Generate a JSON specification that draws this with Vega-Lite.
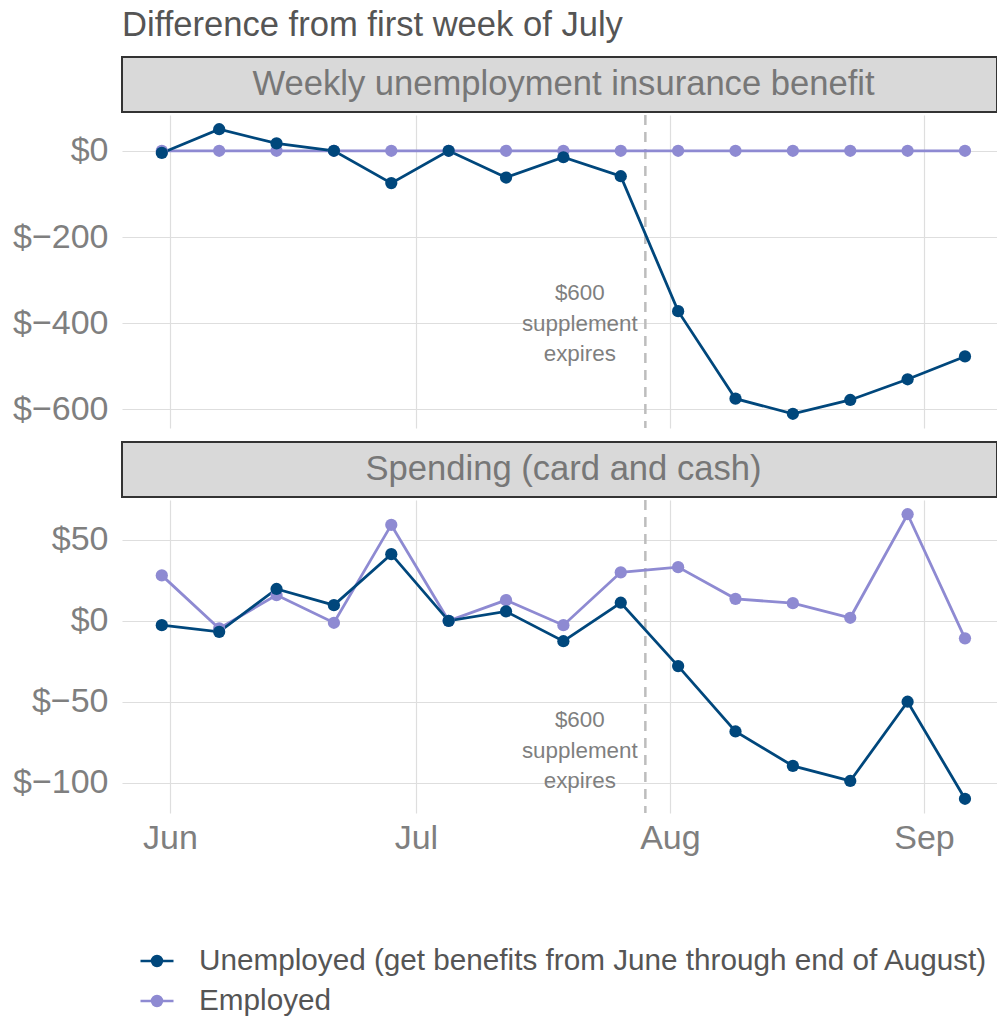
{
  "$schema": "https://vega.github.io/schema/vega-lite/v6.json",
  "padding": {"left": 12, "top": 7, "right": 0, "bottom": 0},
  "background": "white",
  "config": {
    "font": "Liberation Sans",
    "view": {"stroke": null},
    "axis": {"grid": true, "gridColor": "#dedede", "gridWidth": 1.2, "domain": false, "ticks": false, "labelFont": "Liberation Sans", "labelFontSize": 34, "labelColor": "#7f7f7f", "title": null}
  },
  "datasets": {
    "benefit": [
      {"date": "2020-05-31", "group": "Employed", "value": 0},
      {"date": "2020-06-07", "group": "Employed", "value": 0},
      {"date": "2020-06-14", "group": "Employed", "value": 0},
      {"date": "2020-06-21", "group": "Employed", "value": 0},
      {"date": "2020-06-28", "group": "Employed", "value": 0},
      {"date": "2020-07-05", "group": "Employed", "value": 0},
      {"date": "2020-07-12", "group": "Employed", "value": 0},
      {"date": "2020-07-19", "group": "Employed", "value": 0},
      {"date": "2020-07-26", "group": "Employed", "value": 0},
      {"date": "2020-08-02", "group": "Employed", "value": 0},
      {"date": "2020-08-09", "group": "Employed", "value": 0},
      {"date": "2020-08-16", "group": "Employed", "value": 0},
      {"date": "2020-08-23", "group": "Employed", "value": 0},
      {"date": "2020-08-30", "group": "Employed", "value": 0},
      {"date": "2020-09-06", "group": "Employed", "value": 0},
      {"date": "2020-05-31", "group": "Unemployed (get benefits from June through end of August)", "value": -5},
      {"date": "2020-06-07", "group": "Unemployed (get benefits from June through end of August)", "value": 50},
      {"date": "2020-06-14", "group": "Unemployed (get benefits from June through end of August)", "value": 17},
      {"date": "2020-06-21", "group": "Unemployed (get benefits from June through end of August)", "value": 0},
      {"date": "2020-06-28", "group": "Unemployed (get benefits from June through end of August)", "value": -75},
      {"date": "2020-07-05", "group": "Unemployed (get benefits from June through end of August)", "value": 0},
      {"date": "2020-07-12", "group": "Unemployed (get benefits from June through end of August)", "value": -62},
      {"date": "2020-07-19", "group": "Unemployed (get benefits from June through end of August)", "value": -15},
      {"date": "2020-07-26", "group": "Unemployed (get benefits from June through end of August)", "value": -59},
      {"date": "2020-08-02", "group": "Unemployed (get benefits from June through end of August)", "value": -372},
      {"date": "2020-08-09", "group": "Unemployed (get benefits from June through end of August)", "value": -575},
      {"date": "2020-08-16", "group": "Unemployed (get benefits from June through end of August)", "value": -610},
      {"date": "2020-08-23", "group": "Unemployed (get benefits from June through end of August)", "value": -578},
      {"date": "2020-08-30", "group": "Unemployed (get benefits from June through end of August)", "value": -530},
      {"date": "2020-09-06", "group": "Unemployed (get benefits from June through end of August)", "value": -477}
    ],
    "spending": [
      {"date": "2020-05-31", "group": "Employed", "value": 28.1},
      {"date": "2020-06-07", "group": "Employed", "value": -4.7},
      {"date": "2020-06-14", "group": "Employed", "value": 15.9},
      {"date": "2020-06-21", "group": "Employed", "value": -1.2},
      {"date": "2020-06-28", "group": "Employed", "value": 59.3},
      {"date": "2020-07-05", "group": "Employed", "value": 0},
      {"date": "2020-07-12", "group": "Employed", "value": 12.8},
      {"date": "2020-07-19", "group": "Employed", "value": -2.7},
      {"date": "2020-07-26", "group": "Employed", "value": 30},
      {"date": "2020-08-02", "group": "Employed", "value": 33.2},
      {"date": "2020-08-09", "group": "Employed", "value": 13.6},
      {"date": "2020-08-16", "group": "Employed", "value": 10.9},
      {"date": "2020-08-23", "group": "Employed", "value": 1.9},
      {"date": "2020-08-30", "group": "Employed", "value": 65.9},
      {"date": "2020-09-06", "group": "Employed", "value": -10.8},
      {"date": "2020-05-31", "group": "Unemployed (get benefits from June through end of August)", "value": -2.7},
      {"date": "2020-06-07", "group": "Unemployed (get benefits from June through end of August)", "value": -6.8},
      {"date": "2020-06-14", "group": "Unemployed (get benefits from June through end of August)", "value": 19.7},
      {"date": "2020-06-21", "group": "Unemployed (get benefits from June through end of August)", "value": 9.7},
      {"date": "2020-06-28", "group": "Unemployed (get benefits from June through end of August)", "value": 41.2},
      {"date": "2020-07-05", "group": "Unemployed (get benefits from June through end of August)", "value": 0},
      {"date": "2020-07-12", "group": "Unemployed (get benefits from June through end of August)", "value": 5.8},
      {"date": "2020-07-19", "group": "Unemployed (get benefits from June through end of August)", "value": -12.6},
      {"date": "2020-07-26", "group": "Unemployed (get benefits from June through end of August)", "value": 11.2},
      {"date": "2020-08-02", "group": "Unemployed (get benefits from June through end of August)", "value": -28},
      {"date": "2020-08-09", "group": "Unemployed (get benefits from June through end of August)", "value": -68.4},
      {"date": "2020-08-16", "group": "Unemployed (get benefits from June through end of August)", "value": -89.7},
      {"date": "2020-08-23", "group": "Unemployed (get benefits from June through end of August)", "value": -99},
      {"date": "2020-08-30", "group": "Unemployed (get benefits from June through end of August)", "value": -50},
      {"date": "2020-09-06", "group": "Unemployed (get benefits from June through end of August)", "value": -110}
    ],
    "event": [{"date": "2020-07-29"}],
    "noteBenefit": [{"date": "2020-07-21", "value": -331, "label": ["$600", "supplement", "expires"]}],
    "noteSpending": [{"date": "2020-07-21", "value": -61.4, "label": ["$600", "supplement", "expires"]}]
  },
  "vconcat": [
    {
      "spacing": 0,
      "vconcat": [
        {
          "width": 875,
          "height": 55,
          "view": {"fill": "#d9d9d9", "stroke": "#333333", "strokeWidth": 2},
          "title": {"text": "Difference from first week of July", "anchor": "start", "fontSize": 34.6, "fontWeight": "normal", "font": "Liberation Sans", "color": "#555555", "baseline": "alphabetic", "offset": -14},
          "data": {"values": [{"panel": "Weekly unemployment insurance benefit"}]},
          "mark": {"type": "text", "fontSize": 34.6, "color": "#777777", "dx": 4, "baseline": "middle", "align": "center"},
          "encoding": {"text": {"field": "panel"}}
        },
        {
          "width": 875,
          "height": 313,
          "encoding": {
            "x": {"field": "date", "type": "temporal", "scale": {"type": "utc", "domain": [1590463555200, 1599687964800]}, "axis": {"labels": false, "values": [1590969600000, 1593561600000, 1596240000000, 1598918400000], "grid": true}}
          },
          "layer": [
            {
              "data": {"name": "event"},
              "mark": {"type": "rule", "strokeDash": [10, 7], "color": "#bdbdbd", "strokeWidth": 2.5},
              "encoding": {}
            },
            {
              "data": {"name": "benefit"},
              "mark": {"type": "line", "strokeWidth": 2.8},
              "encoding": {
                "y": {"field": "value", "type": "quantitative", "scale": {"domain": [-643, 83], "nice": false, "zero": false}, "axis": {"values": [0, -200, -400, -600], "labelExpr": "'$' + format(datum.value, ',d')", "labelPadding": 14}},
                "color": {"field": "group", "type": "nominal", "scale": {"domain": ["Unemployed (get benefits from June through end of August)", "Employed"], "range": ["#00477c", "#8e8ad2"]},
                  "legend": {"orient": "none", "legendX": 17, "legendY": 886, "direction": "vertical", "title": null, "labelFontSize": 29.7, "labelColor": "#555555", "labelFont": "Liberation Sans", "labelLimit": 2000, "symbolType": "M-1,0L1,0M-0.3,0A0.3,0.3,0,1,0,0.3,0A0.3,0.3,0,1,0,-0.3,0", "symbolSize": 1089, "symbolStrokeWidth": 2.5, "labelOffset": 24, "rowPadding": 7,
                    "encode": {"symbols": {"update": {"fill": {"scale": "color", "field": "value"}, "stroke": {"scale": "color", "field": "value"}, "opacity": {"value": 1}}}}}}
              }
            },
            {
              "data": {"name": "benefit"},
              "mark": {"type": "point", "filled": true, "size": 150, "opacity": 1},
              "encoding": {
                "y": {"field": "value", "type": "quantitative"},
                "color": {"field": "group", "type": "nominal"}
              }
            },
            {
              "data": {"name": "noteBenefit"},
              "mark": {"type": "text", "fontSize": 22.4, "color": "#7f7f7f", "align": "center", "baseline": "middle", "lineHeight": 30.5},
              "encoding": {
                "y": {"field": "value", "type": "quantitative"},
                "text": {"field": "label"}
              }
            }
          ]
        }
      ]
    },
    {
      "spacing": 0,
      "vconcat": [
        {
          "width": 875,
          "height": 55,
          "view": {"fill": "#d9d9d9", "stroke": "#333333", "strokeWidth": 2},
          "data": {"values": [{"panel": "Spending (card and cash)"}]},
          "mark": {"type": "text", "fontSize": 34.6, "color": "#777777", "dx": 4, "baseline": "middle", "align": "center"},
          "encoding": {"text": {"field": "panel"}}
        },
        {
          "width": 875,
          "height": 313,
          "encoding": {
            "x": {"field": "date", "type": "temporal", "scale": {"type": "utc", "domain": [1590463555200, 1599687964800]}, "axis": {"format": "%b", "values": [1590969600000, 1593561600000, 1596240000000, 1598918400000], "grid": true, "labelPadding": 8}}
          },
          "layer": [
            {
              "data": {"name": "event"},
              "mark": {"type": "rule", "strokeDash": [10, 7], "color": "#bdbdbd", "strokeWidth": 2.5},
              "encoding": {}
            },
            {
              "data": {"name": "spending"},
              "mark": {"type": "line", "strokeWidth": 2.8},
              "encoding": {
                "y": {"field": "value", "type": "quantitative", "scale": {"domain": [-118.8, 74.7], "nice": false, "zero": false}, "axis": {"values": [50, 0, -50, -100], "labelExpr": "'$' + format(datum.value, ',d')", "labelPadding": 14}},
                "color": {"field": "group", "type": "nominal"}
              }
            },
            {
              "data": {"name": "spending"},
              "mark": {"type": "point", "filled": true, "size": 150, "opacity": 1},
              "encoding": {
                "y": {"field": "value", "type": "quantitative"},
                "color": {"field": "group", "type": "nominal"}
              }
            },
            {
              "data": {"name": "noteSpending"},
              "mark": {"type": "text", "fontSize": 22.4, "color": "#7f7f7f", "align": "center", "baseline": "middle", "lineHeight": 30.5},
              "encoding": {
                "y": {"field": "value", "type": "quantitative"},
                "text": {"field": "label"}
              }
            }
          ]
        }
      ]
    }
  ],
  "spacing": 11
}
